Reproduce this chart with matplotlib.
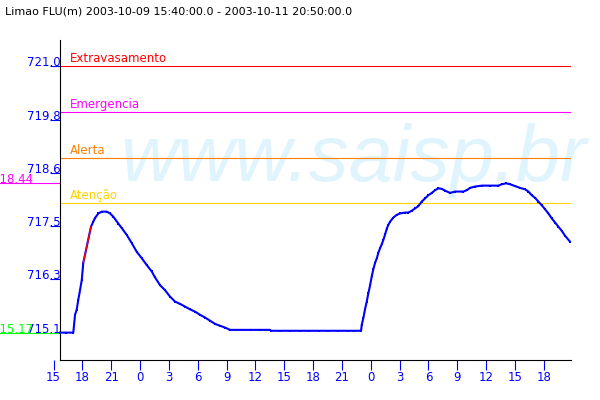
import matplotlib
matplotlib.use("Agg")
import matplotlib.pyplot as plt
import matplotlib.transforms as mtrans

# cabecalho e intervalo do grafico (horas contadas a partir de 2003-10-09 00:00)
title = "Limao FLU(m) 2003-10-09 15:40:00.0 - 2003-10-11 20:50:00.0"
t_start = 15 + 40 / 60.0
t_end = 48 + 20 + 50 / 60.0

# cotas de referencia
level_names = ["Extravasamento", "Emergencia", "Alerta", "Atenção"]
level_values = [721.0, 720.0, 719.0, 718.0]
level_colors = ["#ff0000", "#ff00ff", "#ff8000", "#ffd200"]

# eixos
ytick_values = [715.17, 716.336, 717.502, 718.668, 719.834, 721.0]
ytick_labels = ["715.1", "716.3", "717.5", "718.6", "719.8", "721.0"]
xtick_hours = list(range(15, 67, 3))
xtick_labels = [str(h % 24) for h in xtick_hours]

# serie: hora, nivel (m)
times = [15.67, 16.30, 17.05, 17.23, 17.40, 17.57, 17.75, 17.93, 18.09,
         18.89, 19.13, 19.31, 19.65, 20.01, 20.53, 20.87, 21.21, 21.73,
         22.09, 22.61, 23.13, 23.65, 24.17, 24.69, 25.21, 25.55, 26.07,
         26.59, 27.11, 27.63, 28.15, 28.67, 29.19, 29.71, 30.24, 30.76,
         31.28, 31.80, 32.32, 32.84, 33.36, 34.40, 35.50, 36.50, 37.52,
         37.62, 38.60, 39.60, 40.60, 41.60, 42.60, 43.60, 44.60, 45.60,
         46.30, 46.99, 47.06, 47.23, 47.40, 47.58, 47.75, 47.93, 48.10,
         48.27, 48.45, 48.63, 48.79, 48.97, 49.15, 49.31, 49.49, 49.67,
         49.83, 50.01, 50.35, 50.70, 51.05, 51.57, 51.91, 52.26, 52.61,
         52.95, 53.30, 53.65, 53.99, 54.35, 54.69, 55.03, 55.39, 55.73,
         56.25, 56.77, 57.63, 57.99, 58.33, 58.85, 59.55, 60.41, 61.28,
         61.63, 62.08, 62.49, 63.01, 63.53, 64.05, 64.40, 64.75, 65.10,
         65.44, 65.79, 66.14, 66.48, 66.84, 67.18, 67.52, 67.87, 68.22,
         68.74]
levels = [715.17, 715.17, 715.17, 715.56, 715.67, 715.89, 716.10, 716.32, 716.70,
          717.49, 717.60, 717.68, 717.78, 717.82, 717.82, 717.78, 717.71, 717.56,
          717.46, 717.31, 717.13, 716.94, 716.80, 716.65, 716.51, 716.38, 716.21,
          716.10, 715.96, 715.85, 715.80, 715.74, 715.68, 715.63, 715.56, 715.50,
          715.43, 715.36, 715.32, 715.28, 715.23, 715.23, 715.23, 715.23, 715.23,
          715.21, 715.21, 715.21, 715.21, 715.21, 715.21, 715.21, 715.21, 715.21,
          715.21, 715.21, 715.34, 715.49, 715.68, 715.85, 716.03, 716.21, 716.40,
          716.56, 716.70, 716.80, 716.92, 717.02, 717.11, 717.20, 717.32, 717.45,
          717.53, 717.60, 717.69, 717.75, 717.78, 717.80, 717.80, 717.84, 717.89,
          717.94, 718.04, 718.11, 718.18, 718.23, 718.29, 718.33, 718.32, 718.28,
          718.23, 718.26, 718.26, 718.29, 718.34, 718.37, 718.39, 718.39, 718.39,
          718.42, 718.44, 718.42, 718.38, 718.34, 718.31, 718.26, 718.18, 718.12,
          718.04, 717.96, 717.87, 717.78, 717.67, 717.58, 717.49, 717.40, 717.29,
          717.16]
# trecho sem dados (desenhado em vermelho)
gap_from = 18.09

BLUE = "#0000ff"
FS = 8.5

fig = plt.figure(figsize=(6, 4), dpi=100)
ax = fig.add_axes([53.6 / 600, 40 / 400, (571 - 53.6) / 600, 320 / 400])
ax.set_xlim(15, t_end)
ax.set_ylim(714.57, 721.58)

ax.spines["top"].set_visible(False)
ax.spines["right"].set_visible(False)
ax.spines["left"].set_position(("data", t_start))
ax.spines["bottom"].set_bounds(t_start, t_end)
ax.spines["left"].set_linewidth(0.8)
ax.spines["bottom"].set_linewidth(0.8)

# marca d'agua
ax.text(120 / 600, 1 - 181 / 400, "www.saisp.br", transform=fig.transFigure,
        fontsize=57, style="italic", family="Liberation Sans", color="#e0f4fd",
        ha="left", va="baseline", zorder=0, clip_on=False)

# cotas
ax.hlines(level_values, t_start, t_end, colors=level_colors, lw=0.8, zorder=1)
for name, val, col in zip(level_names, level_values, level_colors):
    ax.annotate(name, (t_start, val), xytext=(7.2, 3), textcoords="offset points",
                color=col, fontsize=FS, va="baseline", ha="left")

# serie
ax.plot(times, levels, color=BLUE, lw=1.5, marker="s", ms=2.0, mew=0, zorder=3)
i = times.index(gap_from)
ax.plot(times[i:i + 2], levels[i:i + 2], color="#ff0000", lw=1.0, zorder=4)

# maximo e minimo na margem esquerda
blend = mtrans.blended_transform_factory(fig.transFigure, ax.transData)
vmax = max(levels)
vmin = min(levels)
for v, col in [(vmax, "#ff00ff"), (vmin, "#00ff00")]:
    ax.plot([0, 60 / 600], [v, v], color=col, lw=0.8, transform=blend, clip_on=False, zorder=2)
    ax.text(33 / 600, v, "%.2f" % v, transform=blend, ha="right", va="baseline",
            color=col, fontsize=FS, clip_on=False)

ax.set_yticks(ytick_values, ytick_labels)
ax.tick_params(axis="y", direction="out", length=7.2, width=0.8, color=BLUE,
               labelcolor=BLUE, labelsize=FS, pad=-7.5)
for lb in ax.get_yticklabels():
    lb.set_verticalalignment("baseline")

ax.set_xticks(xtick_hours, xtick_labels)
ax.tick_params(axis="x", direction="out", length=7.2, width=0.8, color=BLUE,
               labelcolor=BLUE, labelsize=FS, pad=0.5)

fig.text(5 / 600, 1 - 12 / 400, title, fontsize=8, va="center", ha="left")

fig.savefig("out.png", dpi=100)
